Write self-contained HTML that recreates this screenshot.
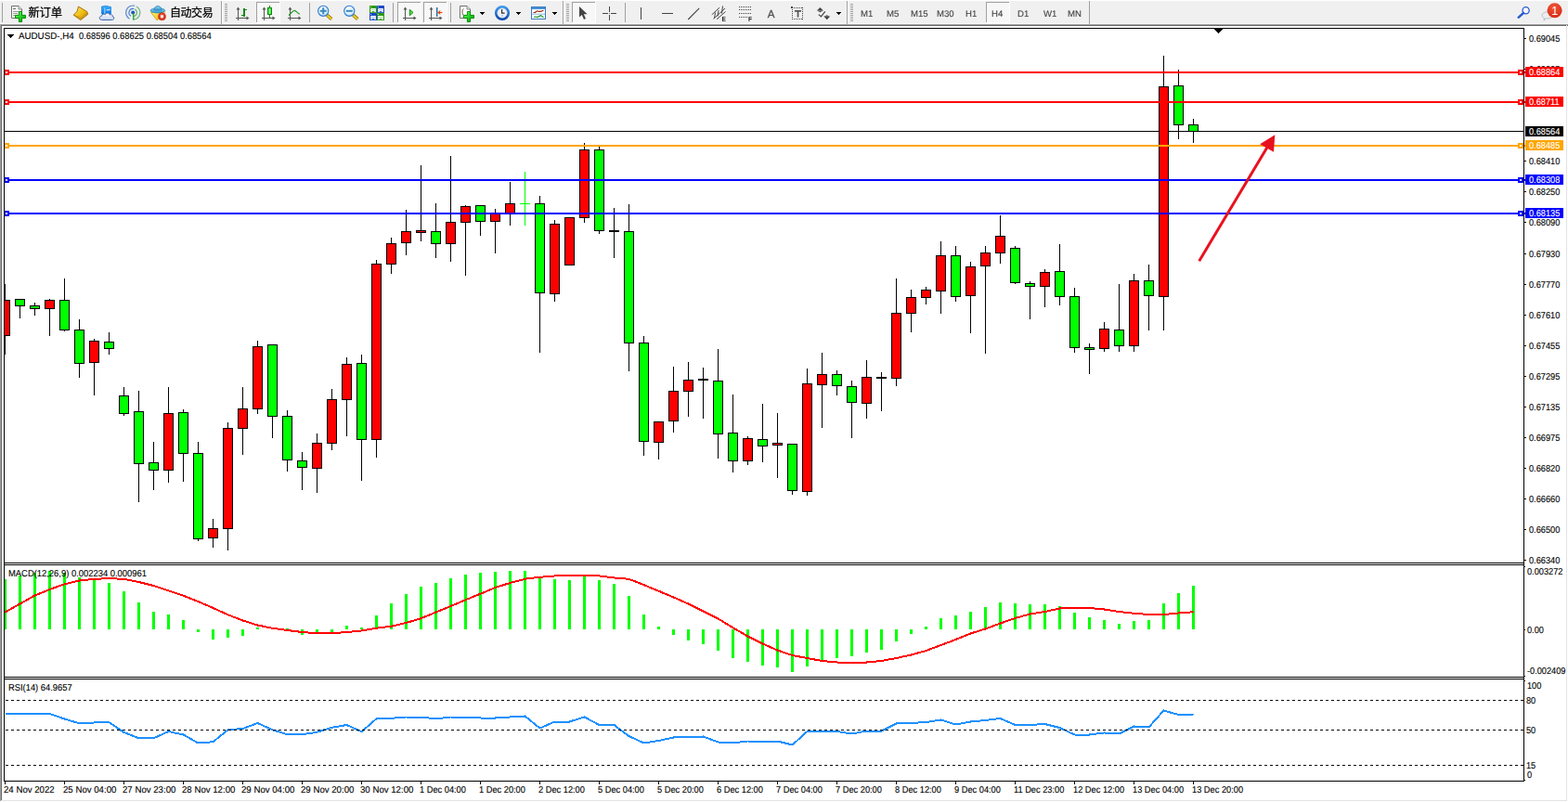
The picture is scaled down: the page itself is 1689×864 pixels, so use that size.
<!DOCTYPE html>
<html><head><meta charset="utf-8"><title>AUDUSD H4</title>
<style>
html,body{margin:0;padding:0;background:#fff;}
body{width:1689px;height:864px;overflow:hidden;position:relative;font-family:"Liberation Sans",sans-serif;}
.t{position:absolute;white-space:nowrap;line-height:1;text-rendering:geometricPrecision;-webkit-text-stroke:0.12px;font-family:"Liberation Sans",sans-serif;}
#tb{position:absolute;left:0;top:0;width:1689px;height:26px;background:#f0f0f0;}
svg{position:absolute;left:0;top:0;}
</style></head><body>
<div id="tb"></div>
<svg width="1689" height="864" viewBox="0 0 1689 864" shape-rendering="crispEdges">
<defs><clipPath id="cc"><rect x="5" y="31" width="1636" height="575"/></clipPath></defs>
<rect x="0" y="0" width="1689" height="1" fill="#fff"/>
<rect x="0" y="25" width="1689" height="1" fill="#f7f7f7"/>
<rect x="0" y="26" width="1689" height="1" fill="#a0a0a0"/>
<rect x="1" y="27" width="1688" height="1" fill="#696969"/>
<rect x="0" y="26" width="1" height="837" fill="#a0a0a0"/>
<rect x="1" y="27" width="1" height="835" fill="#696969"/>
<rect x="1687" y="27" width="1" height="836" fill="#e3e3e3"/>
<rect x="1" y="862" width="1687" height="1" fill="#e3e3e3"/>
<rect x="4" y="141" width="1638" height="1" fill="#000"/>
<g clip-path="url(#cc)">
<rect x="5" y="306" width="1" height="76" fill="#000"/>
<rect x="0" y="323" width="11" height="39" fill="#000"/>
<rect x="1" y="324" width="9" height="37" fill="#ff0000"/>
<rect x="21" y="322" width="1" height="21" fill="#000"/>
<rect x="16" y="322" width="11" height="8" fill="#000"/>
<rect x="17" y="323" width="9" height="6" fill="#00ff00"/>
<rect x="37" y="326" width="1" height="14" fill="#000"/>
<rect x="32" y="329" width="11" height="4" fill="#000"/>
<rect x="33" y="330" width="9" height="2" fill="#00ff00"/>
<rect x="53" y="322" width="1" height="40" fill="#000"/>
<rect x="48" y="323" width="11" height="10" fill="#000"/>
<rect x="49" y="324" width="9" height="8" fill="#ff0000"/>
<rect x="69" y="300" width="1" height="57" fill="#000"/>
<rect x="64" y="323" width="11" height="33" fill="#000"/>
<rect x="65" y="324" width="9" height="31" fill="#00ff00"/>
<rect x="85" y="344" width="1" height="63" fill="#000"/>
<rect x="80" y="355" width="11" height="37" fill="#000"/>
<rect x="81" y="356" width="9" height="35" fill="#00ff00"/>
<rect x="101" y="365" width="1" height="61" fill="#000"/>
<rect x="96" y="367" width="11" height="24" fill="#000"/>
<rect x="97" y="368" width="9" height="22" fill="#ff0000"/>
<rect x="117" y="358" width="1" height="24" fill="#000"/>
<rect x="112" y="368" width="11" height="8" fill="#000"/>
<rect x="113" y="369" width="9" height="6" fill="#00ff00"/>
<rect x="133" y="417" width="1" height="31" fill="#000"/>
<rect x="128" y="426" width="11" height="20" fill="#000"/>
<rect x="129" y="427" width="9" height="18" fill="#00ff00"/>
<rect x="149" y="421" width="1" height="120" fill="#000"/>
<rect x="144" y="443" width="11" height="57" fill="#000"/>
<rect x="145" y="444" width="9" height="55" fill="#00ff00"/>
<rect x="165" y="476" width="1" height="52" fill="#000"/>
<rect x="160" y="498" width="11" height="9" fill="#000"/>
<rect x="161" y="499" width="9" height="7" fill="#00ff00"/>
<rect x="181" y="417" width="1" height="103" fill="#000"/>
<rect x="176" y="445" width="11" height="62" fill="#000"/>
<rect x="177" y="446" width="9" height="60" fill="#ff0000"/>
<rect x="197" y="441" width="1" height="78" fill="#000"/>
<rect x="192" y="444" width="11" height="45" fill="#000"/>
<rect x="193" y="445" width="9" height="43" fill="#00ff00"/>
<rect x="213" y="476" width="1" height="107" fill="#000"/>
<rect x="208" y="488" width="11" height="93" fill="#000"/>
<rect x="209" y="489" width="9" height="91" fill="#00ff00"/>
<rect x="229" y="559" width="1" height="31" fill="#000"/>
<rect x="224" y="569" width="11" height="11" fill="#000"/>
<rect x="225" y="570" width="9" height="9" fill="#ff0000"/>
<rect x="245" y="455" width="1" height="138" fill="#000"/>
<rect x="240" y="461" width="11" height="109" fill="#000"/>
<rect x="241" y="462" width="9" height="107" fill="#ff0000"/>
<rect x="261" y="417" width="1" height="73" fill="#000"/>
<rect x="256" y="440" width="11" height="22" fill="#000"/>
<rect x="257" y="441" width="9" height="20" fill="#ff0000"/>
<rect x="277" y="367" width="1" height="79" fill="#000"/>
<rect x="272" y="373" width="11" height="68" fill="#000"/>
<rect x="273" y="374" width="9" height="66" fill="#ff0000"/>
<rect x="293" y="371" width="1" height="101" fill="#000"/>
<rect x="288" y="371" width="11" height="78" fill="#000"/>
<rect x="289" y="372" width="9" height="76" fill="#00ff00"/>
<rect x="309" y="442" width="1" height="66" fill="#000"/>
<rect x="304" y="448" width="11" height="48" fill="#000"/>
<rect x="305" y="449" width="9" height="46" fill="#00ff00"/>
<rect x="325" y="487" width="1" height="41" fill="#000"/>
<rect x="320" y="496" width="11" height="8" fill="#000"/>
<rect x="321" y="497" width="9" height="6" fill="#00ff00"/>
<rect x="341" y="467" width="1" height="64" fill="#000"/>
<rect x="336" y="477" width="11" height="28" fill="#000"/>
<rect x="337" y="478" width="9" height="26" fill="#ff0000"/>
<rect x="357" y="419" width="1" height="66" fill="#000"/>
<rect x="352" y="430" width="11" height="48" fill="#000"/>
<rect x="353" y="431" width="9" height="46" fill="#ff0000"/>
<rect x="373" y="385" width="1" height="85" fill="#000"/>
<rect x="368" y="392" width="11" height="39" fill="#000"/>
<rect x="369" y="393" width="9" height="37" fill="#ff0000"/>
<rect x="389" y="382" width="1" height="136" fill="#000"/>
<rect x="384" y="391" width="11" height="83" fill="#000"/>
<rect x="385" y="392" width="9" height="81" fill="#00ff00"/>
<rect x="405" y="280" width="1" height="213" fill="#000"/>
<rect x="400" y="284" width="11" height="190" fill="#000"/>
<rect x="401" y="285" width="9" height="188" fill="#ff0000"/>
<rect x="421" y="256" width="1" height="39" fill="#000"/>
<rect x="416" y="262" width="11" height="23" fill="#000"/>
<rect x="417" y="263" width="9" height="21" fill="#ff0000"/>
<rect x="437" y="226" width="1" height="49" fill="#000"/>
<rect x="432" y="249" width="11" height="13" fill="#000"/>
<rect x="433" y="250" width="9" height="11" fill="#ff0000"/>
<rect x="453" y="178" width="1" height="82" fill="#000"/>
<rect x="448" y="248" width="11" height="3" fill="#000"/>
<rect x="449" y="249" width="9" height="1" fill="#ff0000"/>
<rect x="469" y="219" width="1" height="59" fill="#000"/>
<rect x="464" y="249" width="11" height="14" fill="#000"/>
<rect x="465" y="250" width="9" height="12" fill="#00ff00"/>
<rect x="485" y="168" width="1" height="114" fill="#000"/>
<rect x="480" y="239" width="11" height="24" fill="#000"/>
<rect x="481" y="240" width="9" height="22" fill="#ff0000"/>
<rect x="501" y="221" width="1" height="76" fill="#000"/>
<rect x="496" y="222" width="11" height="18" fill="#000"/>
<rect x="497" y="223" width="9" height="16" fill="#ff0000"/>
<rect x="517" y="221" width="1" height="33" fill="#000"/>
<rect x="512" y="221" width="11" height="18" fill="#000"/>
<rect x="513" y="222" width="9" height="16" fill="#00ff00"/>
<rect x="533" y="225" width="1" height="48" fill="#000"/>
<rect x="528" y="229" width="11" height="10" fill="#000"/>
<rect x="529" y="230" width="9" height="8" fill="#ff0000"/>
<rect x="549" y="196" width="1" height="47" fill="#000"/>
<rect x="544" y="219" width="11" height="11" fill="#000"/>
<rect x="545" y="220" width="9" height="9" fill="#ff0000"/>
<rect x="565" y="185" width="1" height="58" fill="#00ff00"/>
<rect x="560" y="219" width="11" height="1" fill="#00ff00"/>
<rect x="581" y="211" width="1" height="169" fill="#000"/>
<rect x="576" y="219" width="11" height="97" fill="#000"/>
<rect x="577" y="220" width="9" height="95" fill="#00ff00"/>
<rect x="597" y="237" width="1" height="88" fill="#000"/>
<rect x="592" y="241" width="11" height="76" fill="#000"/>
<rect x="593" y="242" width="9" height="74" fill="#ff0000"/>
<rect x="613" y="234" width="1" height="52" fill="#000"/>
<rect x="608" y="234" width="11" height="52" fill="#000"/>
<rect x="609" y="235" width="9" height="50" fill="#ff0000"/>
<rect x="629" y="154" width="1" height="86" fill="#000"/>
<rect x="624" y="161" width="11" height="74" fill="#000"/>
<rect x="625" y="162" width="9" height="72" fill="#ff0000"/>
<rect x="645" y="158" width="1" height="94" fill="#000"/>
<rect x="640" y="161" width="11" height="88" fill="#000"/>
<rect x="641" y="162" width="9" height="86" fill="#00ff00"/>
<rect x="661" y="224" width="1" height="54" fill="#000"/>
<rect x="656" y="248" width="11" height="2" fill="#000"/>
<rect x="677" y="220" width="1" height="180" fill="#000"/>
<rect x="672" y="249" width="11" height="121" fill="#000"/>
<rect x="673" y="250" width="9" height="119" fill="#00ff00"/>
<rect x="693" y="362" width="1" height="129" fill="#000"/>
<rect x="688" y="369" width="11" height="107" fill="#000"/>
<rect x="689" y="370" width="9" height="105" fill="#00ff00"/>
<rect x="709" y="454" width="1" height="41" fill="#000"/>
<rect x="704" y="454" width="11" height="23" fill="#000"/>
<rect x="705" y="455" width="9" height="21" fill="#ff0000"/>
<rect x="725" y="395" width="1" height="71" fill="#000"/>
<rect x="720" y="421" width="11" height="33" fill="#000"/>
<rect x="721" y="422" width="9" height="31" fill="#ff0000"/>
<rect x="741" y="390" width="1" height="59" fill="#000"/>
<rect x="736" y="409" width="11" height="13" fill="#000"/>
<rect x="737" y="410" width="9" height="11" fill="#ff0000"/>
<rect x="757" y="396" width="1" height="55" fill="#000"/>
<rect x="752" y="408" width="11" height="2" fill="#000"/>
<rect x="773" y="376" width="1" height="118" fill="#000"/>
<rect x="768" y="410" width="11" height="58" fill="#000"/>
<rect x="769" y="411" width="9" height="56" fill="#00ff00"/>
<rect x="789" y="425" width="1" height="84" fill="#000"/>
<rect x="784" y="466" width="11" height="31" fill="#000"/>
<rect x="785" y="467" width="9" height="29" fill="#00ff00"/>
<rect x="805" y="470" width="1" height="31" fill="#000"/>
<rect x="800" y="472" width="11" height="25" fill="#000"/>
<rect x="801" y="473" width="9" height="23" fill="#ff0000"/>
<rect x="821" y="435" width="1" height="63" fill="#000"/>
<rect x="816" y="473" width="11" height="8" fill="#000"/>
<rect x="817" y="474" width="9" height="6" fill="#00ff00"/>
<rect x="837" y="445" width="1" height="70" fill="#000"/>
<rect x="832" y="477" width="11" height="3" fill="#000"/>
<rect x="833" y="478" width="9" height="1" fill="#ff0000"/>
<rect x="853" y="478" width="1" height="55" fill="#000"/>
<rect x="848" y="478" width="11" height="51" fill="#000"/>
<rect x="849" y="479" width="9" height="49" fill="#00ff00"/>
<rect x="869" y="397" width="1" height="137" fill="#000"/>
<rect x="864" y="413" width="11" height="117" fill="#000"/>
<rect x="865" y="414" width="9" height="115" fill="#ff0000"/>
<rect x="885" y="380" width="1" height="81" fill="#000"/>
<rect x="880" y="403" width="11" height="12" fill="#000"/>
<rect x="881" y="404" width="9" height="10" fill="#ff0000"/>
<rect x="901" y="399" width="1" height="27" fill="#000"/>
<rect x="896" y="403" width="11" height="13" fill="#000"/>
<rect x="897" y="404" width="9" height="11" fill="#00ff00"/>
<rect x="917" y="410" width="1" height="62" fill="#000"/>
<rect x="912" y="416" width="11" height="18" fill="#000"/>
<rect x="913" y="417" width="9" height="16" fill="#00ff00"/>
<rect x="933" y="388" width="1" height="63" fill="#000"/>
<rect x="928" y="406" width="11" height="29" fill="#000"/>
<rect x="929" y="407" width="9" height="27" fill="#ff0000"/>
<rect x="949" y="401" width="1" height="42" fill="#000"/>
<rect x="944" y="406" width="11" height="2" fill="#000"/>
<rect x="965" y="300" width="1" height="116" fill="#000"/>
<rect x="960" y="337" width="11" height="71" fill="#000"/>
<rect x="961" y="338" width="9" height="69" fill="#ff0000"/>
<rect x="981" y="312" width="1" height="46" fill="#000"/>
<rect x="976" y="320" width="11" height="18" fill="#000"/>
<rect x="977" y="321" width="9" height="16" fill="#ff0000"/>
<rect x="997" y="309" width="1" height="19" fill="#000"/>
<rect x="992" y="312" width="11" height="9" fill="#000"/>
<rect x="993" y="313" width="9" height="7" fill="#ff0000"/>
<rect x="1013" y="260" width="1" height="78" fill="#000"/>
<rect x="1008" y="275" width="11" height="39" fill="#000"/>
<rect x="1009" y="276" width="9" height="37" fill="#ff0000"/>
<rect x="1029" y="265" width="1" height="60" fill="#000"/>
<rect x="1024" y="275" width="11" height="45" fill="#000"/>
<rect x="1025" y="276" width="9" height="43" fill="#00ff00"/>
<rect x="1045" y="282" width="1" height="77" fill="#000"/>
<rect x="1040" y="287" width="11" height="32" fill="#000"/>
<rect x="1041" y="288" width="9" height="30" fill="#ff0000"/>
<rect x="1061" y="265" width="1" height="116" fill="#000"/>
<rect x="1056" y="272" width="11" height="15" fill="#000"/>
<rect x="1057" y="273" width="9" height="13" fill="#ff0000"/>
<rect x="1077" y="232" width="1" height="52" fill="#000"/>
<rect x="1072" y="254" width="11" height="19" fill="#000"/>
<rect x="1073" y="255" width="9" height="17" fill="#ff0000"/>
<rect x="1093" y="265" width="1" height="41" fill="#000"/>
<rect x="1088" y="267" width="11" height="38" fill="#000"/>
<rect x="1089" y="268" width="9" height="36" fill="#00ff00"/>
<rect x="1109" y="303" width="1" height="41" fill="#000"/>
<rect x="1104" y="305" width="11" height="4" fill="#000"/>
<rect x="1105" y="306" width="9" height="2" fill="#00ff00"/>
<rect x="1125" y="290" width="1" height="41" fill="#000"/>
<rect x="1120" y="293" width="11" height="16" fill="#000"/>
<rect x="1121" y="294" width="9" height="14" fill="#ff0000"/>
<rect x="1141" y="263" width="1" height="66" fill="#000"/>
<rect x="1136" y="292" width="11" height="28" fill="#000"/>
<rect x="1137" y="293" width="9" height="26" fill="#00ff00"/>
<rect x="1157" y="310" width="1" height="70" fill="#000"/>
<rect x="1152" y="319" width="11" height="56" fill="#000"/>
<rect x="1153" y="320" width="9" height="54" fill="#00ff00"/>
<rect x="1173" y="370" width="1" height="33" fill="#000"/>
<rect x="1168" y="374" width="11" height="3" fill="#000"/>
<rect x="1169" y="375" width="9" height="1" fill="#00ff00"/>
<rect x="1189" y="347" width="1" height="32" fill="#000"/>
<rect x="1184" y="354" width="11" height="22" fill="#000"/>
<rect x="1185" y="355" width="9" height="20" fill="#ff0000"/>
<rect x="1205" y="306" width="1" height="73" fill="#000"/>
<rect x="1200" y="355" width="11" height="18" fill="#000"/>
<rect x="1201" y="356" width="9" height="16" fill="#00ff00"/>
<rect x="1221" y="295" width="1" height="84" fill="#000"/>
<rect x="1216" y="302" width="11" height="71" fill="#000"/>
<rect x="1217" y="303" width="9" height="69" fill="#ff0000"/>
<rect x="1237" y="285" width="1" height="71" fill="#000"/>
<rect x="1232" y="302" width="11" height="17" fill="#000"/>
<rect x="1233" y="303" width="9" height="15" fill="#00ff00"/>
<rect x="1253" y="60" width="1" height="296" fill="#000"/>
<rect x="1248" y="93" width="11" height="227" fill="#000"/>
<rect x="1249" y="94" width="9" height="225" fill="#ff0000"/>
<rect x="1269" y="75" width="1" height="75" fill="#000"/>
<rect x="1264" y="92" width="11" height="43" fill="#000"/>
<rect x="1265" y="93" width="9" height="41" fill="#00ff00"/>
<rect x="1285" y="128" width="1" height="26" fill="#000"/>
<rect x="1280" y="134" width="11" height="8" fill="#000"/>
<rect x="1281" y="135" width="9" height="6" fill="#00ff00"/>
</g>
<rect x="5" y="77" width="1638" height="2" fill="#ff0000"/>
<rect x="4" y="75" width="6" height="6" fill="#ff0000"/>
<rect x="6" y="77" width="2" height="2" fill="#fff"/>
<rect x="1635" y="75" width="6" height="6" fill="#ff0000"/>
<rect x="1637" y="77" width="2" height="2" fill="#fff"/>
<rect x="5" y="109" width="1638" height="2" fill="#ff0000"/>
<rect x="4" y="107" width="6" height="6" fill="#ff0000"/>
<rect x="6" y="109" width="2" height="2" fill="#fff"/>
<rect x="1635" y="107" width="6" height="6" fill="#ff0000"/>
<rect x="1637" y="109" width="2" height="2" fill="#fff"/>
<rect x="5" y="156" width="1638" height="2" fill="#ffa500"/>
<rect x="4" y="154" width="6" height="6" fill="#ffa500"/>
<rect x="6" y="156" width="2" height="2" fill="#fff"/>
<rect x="1635" y="154" width="6" height="6" fill="#ffa500"/>
<rect x="1637" y="156" width="2" height="2" fill="#fff"/>
<rect x="5" y="193" width="1638" height="2" fill="#0000ff"/>
<rect x="4" y="191" width="6" height="6" fill="#0000ff"/>
<rect x="6" y="193" width="2" height="2" fill="#fff"/>
<rect x="1635" y="191" width="6" height="6" fill="#0000ff"/>
<rect x="1637" y="193" width="2" height="2" fill="#fff"/>
<rect x="5" y="229" width="1638" height="2" fill="#0000ff"/>
<rect x="4" y="227" width="6" height="6" fill="#0000ff"/>
<rect x="6" y="229" width="2" height="2" fill="#fff"/>
<rect x="1635" y="227" width="6" height="6" fill="#0000ff"/>
<rect x="1637" y="229" width="2" height="2" fill="#fff"/>
<rect x="5" y="624" width="2" height="54" fill="#00ff00"/>
<rect x="20" y="620" width="3" height="58" fill="#00ff00"/>
<rect x="36" y="617" width="3" height="61" fill="#00ff00"/>
<rect x="52" y="615" width="3" height="63" fill="#00ff00"/>
<rect x="68" y="617" width="3" height="61" fill="#00ff00"/>
<rect x="84" y="622" width="3" height="56" fill="#00ff00"/>
<rect x="100" y="625" width="3" height="53" fill="#00ff00"/>
<rect x="116" y="628" width="3" height="50" fill="#00ff00"/>
<rect x="132" y="637" width="3" height="41" fill="#00ff00"/>
<rect x="148" y="649" width="3" height="29" fill="#00ff00"/>
<rect x="164" y="659" width="3" height="19" fill="#00ff00"/>
<rect x="180" y="662" width="3" height="16" fill="#00ff00"/>
<rect x="196" y="668" width="3" height="10" fill="#00ff00"/>
<rect x="212" y="678" width="3" height="3" fill="#00ff00"/>
<rect x="228" y="678" width="3" height="11" fill="#00ff00"/>
<rect x="244" y="678" width="3" height="9" fill="#00ff00"/>
<rect x="260" y="678" width="3" height="7" fill="#00ff00"/>
<rect x="276" y="676" width="3" height="2" fill="#00ff00"/>
<rect x="292" y="676" width="3" height="2" fill="#00ff00"/>
<rect x="308" y="677" width="3" height="1" fill="#00ff00"/>
<rect x="324" y="678" width="3" height="6" fill="#00ff00"/>
<rect x="340" y="678" width="3" height="5" fill="#00ff00"/>
<rect x="356" y="678" width="3" height="4" fill="#00ff00"/>
<rect x="372" y="674" width="3" height="4" fill="#00ff00"/>
<rect x="388" y="676" width="3" height="2" fill="#00ff00"/>
<rect x="404" y="663" width="3" height="15" fill="#00ff00"/>
<rect x="420" y="650" width="3" height="28" fill="#00ff00"/>
<rect x="436" y="640" width="3" height="38" fill="#00ff00"/>
<rect x="452" y="632" width="3" height="46" fill="#00ff00"/>
<rect x="468" y="628" width="3" height="50" fill="#00ff00"/>
<rect x="484" y="623" width="3" height="55" fill="#00ff00"/>
<rect x="500" y="619" width="3" height="59" fill="#00ff00"/>
<rect x="516" y="617" width="3" height="61" fill="#00ff00"/>
<rect x="532" y="616" width="3" height="62" fill="#00ff00"/>
<rect x="548" y="615" width="3" height="63" fill="#00ff00"/>
<rect x="564" y="615" width="3" height="63" fill="#00ff00"/>
<rect x="580" y="623" width="3" height="55" fill="#00ff00"/>
<rect x="596" y="624" width="3" height="54" fill="#00ff00"/>
<rect x="612" y="625" width="3" height="53" fill="#00ff00"/>
<rect x="628" y="621" width="3" height="57" fill="#00ff00"/>
<rect x="644" y="625" width="3" height="53" fill="#00ff00"/>
<rect x="660" y="629" width="3" height="49" fill="#00ff00"/>
<rect x="676" y="642" width="3" height="36" fill="#00ff00"/>
<rect x="692" y="662" width="3" height="16" fill="#00ff00"/>
<rect x="708" y="675" width="3" height="3" fill="#00ff00"/>
<rect x="724" y="678" width="3" height="6" fill="#00ff00"/>
<rect x="740" y="678" width="3" height="12" fill="#00ff00"/>
<rect x="756" y="678" width="3" height="16" fill="#00ff00"/>
<rect x="772" y="678" width="3" height="23" fill="#00ff00"/>
<rect x="788" y="678" width="3" height="31" fill="#00ff00"/>
<rect x="804" y="678" width="3" height="35" fill="#00ff00"/>
<rect x="820" y="678" width="3" height="39" fill="#00ff00"/>
<rect x="836" y="678" width="3" height="41" fill="#00ff00"/>
<rect x="852" y="678" width="3" height="46" fill="#00ff00"/>
<rect x="868" y="678" width="3" height="40" fill="#00ff00"/>
<rect x="884" y="678" width="3" height="34" fill="#00ff00"/>
<rect x="900" y="678" width="3" height="31" fill="#00ff00"/>
<rect x="916" y="678" width="3" height="29" fill="#00ff00"/>
<rect x="932" y="678" width="3" height="25" fill="#00ff00"/>
<rect x="948" y="678" width="3" height="22" fill="#00ff00"/>
<rect x="964" y="678" width="3" height="13" fill="#00ff00"/>
<rect x="980" y="678" width="3" height="5" fill="#00ff00"/>
<rect x="996" y="675" width="3" height="3" fill="#00ff00"/>
<rect x="1012" y="666" width="3" height="12" fill="#00ff00"/>
<rect x="1028" y="663" width="3" height="15" fill="#00ff00"/>
<rect x="1044" y="659" width="3" height="19" fill="#00ff00"/>
<rect x="1060" y="654" width="3" height="24" fill="#00ff00"/>
<rect x="1076" y="649" width="3" height="29" fill="#00ff00"/>
<rect x="1092" y="650" width="3" height="28" fill="#00ff00"/>
<rect x="1108" y="651" width="3" height="27" fill="#00ff00"/>
<rect x="1124" y="651" width="3" height="27" fill="#00ff00"/>
<rect x="1140" y="653" width="3" height="25" fill="#00ff00"/>
<rect x="1156" y="660" width="3" height="18" fill="#00ff00"/>
<rect x="1172" y="665" width="3" height="13" fill="#00ff00"/>
<rect x="1188" y="668" width="3" height="10" fill="#00ff00"/>
<rect x="1204" y="672" width="3" height="6" fill="#00ff00"/>
<rect x="1220" y="669" width="3" height="9" fill="#00ff00"/>
<rect x="1236" y="668" width="3" height="10" fill="#00ff00"/>
<rect x="1252" y="650" width="3" height="28" fill="#00ff00"/>
<rect x="1268" y="639" width="3" height="39" fill="#00ff00"/>
<rect x="1284" y="631" width="3" height="47" fill="#00ff00"/>
<rect x="4" y="30" width="1" height="812" fill="#000"/>
<rect x="4" y="30" width="1638" height="1" fill="#000"/>
<rect x="1641" y="30" width="1" height="812" fill="#000"/>
<rect x="4" y="606" width="1638" height="1" fill="#000"/>
<rect x="4" y="608" width="1638" height="1" fill="#000"/>
<rect x="4" y="729" width="1638" height="1" fill="#000"/>
<rect x="4" y="731" width="1638" height="1" fill="#000"/>
<rect x="4" y="841" width="1638" height="1" fill="#000"/>
<rect x="1642" y="41" width="2" height="1" fill="#000"/><rect x="1642" y="74" width="2" height="1" fill="#000"/><rect x="1642" y="173" width="2" height="1" fill="#000"/><rect x="1642" y="206" width="2" height="1" fill="#000"/><rect x="1642" y="239" width="2" height="1" fill="#000"/><rect x="1642" y="273" width="2" height="1" fill="#000"/><rect x="1642" y="306" width="2" height="1" fill="#000"/><rect x="1642" y="339" width="2" height="1" fill="#000"/><rect x="1642" y="372" width="2" height="1" fill="#000"/><rect x="1642" y="405" width="2" height="1" fill="#000"/><rect x="1642" y="438" width="2" height="1" fill="#000"/><rect x="1642" y="471" width="2" height="1" fill="#000"/><rect x="1642" y="504" width="2" height="1" fill="#000"/><rect x="1642" y="537" width="2" height="1" fill="#000"/><rect x="1642" y="570" width="2" height="1" fill="#000"/><rect x="1642" y="603" width="2" height="1" fill="#000"/><rect x="1642" y="610" width="1" height="1" fill="#000"/><rect x="1642" y="678" width="1" height="1" fill="#000"/><rect x="1642" y="728" width="1" height="1" fill="#000"/><rect x="1642" y="733" width="1" height="1" fill="#000"/><rect x="1642" y="840" width="1" height="1" fill="#000"/><rect x="5" y="842" width="1" height="3" fill="#000"/><rect x="69" y="842" width="1" height="3" fill="#000"/><rect x="133" y="842" width="1" height="3" fill="#000"/><rect x="197" y="842" width="1" height="3" fill="#000"/><rect x="261" y="842" width="1" height="3" fill="#000"/><rect x="325" y="842" width="1" height="3" fill="#000"/><rect x="389" y="842" width="1" height="3" fill="#000"/><rect x="453" y="842" width="1" height="3" fill="#000"/><rect x="517" y="842" width="1" height="3" fill="#000"/><rect x="581" y="842" width="1" height="3" fill="#000"/><rect x="645" y="842" width="1" height="3" fill="#000"/><rect x="709" y="842" width="1" height="3" fill="#000"/><rect x="773" y="842" width="1" height="3" fill="#000"/><rect x="837" y="842" width="1" height="3" fill="#000"/><rect x="901" y="842" width="1" height="3" fill="#000"/><rect x="965" y="842" width="1" height="3" fill="#000"/><rect x="1029" y="842" width="1" height="3" fill="#000"/><rect x="1093" y="842" width="1" height="3" fill="#000"/><rect x="1157" y="842" width="1" height="3" fill="#000"/><rect x="1221" y="842" width="1" height="3" fill="#000"/><rect x="1285" y="842" width="1" height="3" fill="#000"/><rect x="8" y="37" width="7" height="1"/><rect x="9" y="38" width="5" height="1"/><rect x="10" y="39" width="3" height="1"/><rect x="11" y="40" width="1" height="1"/><rect x="1308" y="31" width="9" height="1"/><rect x="1309" y="32" width="7" height="1"/><rect x="1310" y="33" width="5" height="1"/><rect x="1311" y="34" width="3" height="1"/><rect x="1312" y="35" width="1" height="1"/>
</svg>
<svg width="1689" height="864" viewBox="0 0 1689 864">
<polyline points="5.5,659.5 21.5,650.5 37.5,641.5 53.5,635.0 69.5,629.25 85.5,625.5 101.5,623.75 117.5,623.25 133.5,623.75 149.5,627.0 165.5,631.0 181.5,636.25 197.5,641.75 213.5,648.0 229.5,655.0 245.5,662.25 261.5,668.5 277.5,673.5 293.5,676.75 309.5,679.0 325.5,681.0 341.5,682.25 357.5,682.25 373.5,681.0 389.5,679.5 405.5,676.75 421.5,674.75 437.5,671.0 453.5,666.25 469.5,659.5 485.5,653.0 501.5,646.25 517.5,639.75 533.5,633.0 549.5,628.0 565.5,623.75 581.5,621.75 597.5,620.5 613.5,620.0 629.5,620.0 645.5,620.5 661.5,622.5 677.5,623.8 693.5,630.1 709.5,636.75 725.5,643.5 741.5,650.5 757.5,658.5 773.5,666.5 789.5,676.25 805.5,685.5 821.5,693.5 837.5,700.5 853.5,706.0 869.5,709.0 885.5,712.0 901.5,713.5 917.5,713.5 933.5,713.5 949.5,712.0 965.5,709.0 981.5,705.5 997.5,701.0 1013.5,695.0 1029.5,689.0 1045.5,682.5 1061.5,677.5 1077.5,671.5 1093.5,666.0 1109.5,661.5 1125.5,659.0 1141.5,655.5 1157.5,655.0 1173.5,655.0 1189.5,656.5 1205.5,659.0 1221.5,660.75 1237.5,662.0 1253.5,662.0 1269.5,660.5 1285.5,659.25" fill="none" stroke="#ff0000" stroke-width="2" stroke-linejoin="round" shape-rendering="crispEdges"/>
<polyline points="5.5,769.0 21.5,769.0 37.5,769.0 53.5,769.0 69.5,774.5 85.5,779.25 101.5,778.5 117.5,778.25 133.5,789.0 149.5,795.25 165.5,795.25 181.5,788.0 197.5,791.5 213.5,800.5 229.5,799.25 245.5,786.25 261.5,785.0 277.5,779.0 293.5,786.25 309.5,791.25 325.5,791.25 341.5,788.75 357.5,783.75 373.5,781.0 389.5,788.25 405.5,774.25 421.5,773.75 437.5,772.5 453.5,772.5 469.5,774.5 485.5,772.5 501.5,772.5 517.5,773.5 533.5,773.5 549.5,772.5 565.5,771.5 581.5,784.5 597.5,777.5 613.5,777.5 629.5,772.5 645.5,781.0 661.5,781.0 677.5,793.0 693.5,800.5 709.5,798.0 725.5,794.5 741.5,794.0 757.5,793.5 773.5,799.5 789.5,800.5 805.5,798.5 821.5,798.5 837.5,798.5 853.5,802.5 869.5,788.0 885.5,788.0 901.5,788.0 917.5,790.5 933.5,787.5 949.5,787.5 965.5,779.5 981.5,779.0 997.5,778.0 1013.5,775.5 1029.5,780.5 1045.5,777.5 1061.5,776.0 1077.5,774.0 1093.5,781.0 1109.5,781.0 1125.5,780.0 1141.5,784.0 1157.5,791.5 1173.5,791.5 1189.5,789.5 1205.5,790.5 1221.5,782.5 1237.5,783.5 1253.5,765.5 1269.5,770.0 1285.5,770.5" fill="none" stroke="#1e90ff" stroke-width="2" stroke-linejoin="round" shape-rendering="crispEdges"/>
<line x1="6" y1="754.5" x2="1641" y2="754.5" stroke="#000" stroke-width="1" stroke-dasharray="3 3" shape-rendering="crispEdges"/>
<line x1="6" y1="786.5" x2="1641" y2="786.5" stroke="#000" stroke-width="1" stroke-dasharray="3 3" shape-rendering="crispEdges"/>
<line x1="6" y1="824.5" x2="1641" y2="824.5" stroke="#000" stroke-width="1" stroke-dasharray="3 3" shape-rendering="crispEdges"/>
<line x1="1291.7" y1="281.2" x2="1366" y2="157" stroke="#e8121f" stroke-width="3"/>
<polygon points="1373.3,145.2 1357.2,155.3 1372,163.7" fill="#e8121f"/>
</svg>
<div class="t" style="left:1647px;top:38px;font-size:10px;color:#000;transform:scaleX(0.920);transform-origin:0 0;">0.69045</div><div class="t" style="left:1647px;top:71px;font-size:10px;color:#000;transform:scaleX(0.920);transform-origin:0 0;">0.68885</div><div class="t" style="left:1647px;top:170px;font-size:10px;color:#000;transform:scaleX(0.920);transform-origin:0 0;">0.68410</div><div class="t" style="left:1647px;top:203px;font-size:10px;color:#000;transform:scaleX(0.920);transform-origin:0 0;">0.68250</div><div class="t" style="left:1647px;top:236px;font-size:10px;color:#000;transform:scaleX(0.920);transform-origin:0 0;">0.68090</div><div class="t" style="left:1647px;top:270px;font-size:10px;color:#000;transform:scaleX(0.920);transform-origin:0 0;">0.67930</div><div class="t" style="left:1647px;top:303px;font-size:10px;color:#000;transform:scaleX(0.920);transform-origin:0 0;">0.67770</div><div class="t" style="left:1647px;top:336px;font-size:10px;color:#000;transform:scaleX(0.920);transform-origin:0 0;">0.67610</div><div class="t" style="left:1647px;top:369px;font-size:10px;color:#000;transform:scaleX(0.920);transform-origin:0 0;">0.67455</div><div class="t" style="left:1647px;top:402px;font-size:10px;color:#000;transform:scaleX(0.920);transform-origin:0 0;">0.67295</div><div class="t" style="left:1647px;top:435px;font-size:10px;color:#000;transform:scaleX(0.920);transform-origin:0 0;">0.67135</div><div class="t" style="left:1647px;top:468px;font-size:10px;color:#000;transform:scaleX(0.920);transform-origin:0 0;">0.66975</div><div class="t" style="left:1647px;top:501px;font-size:10px;color:#000;transform:scaleX(0.920);transform-origin:0 0;">0.66820</div><div class="t" style="left:1647px;top:534px;font-size:10px;color:#000;transform:scaleX(0.920);transform-origin:0 0;">0.66660</div><div class="t" style="left:1647px;top:567px;font-size:10px;color:#000;transform:scaleX(0.920);transform-origin:0 0;">0.66500</div><div class="t" style="left:1647px;top:600px;font-size:10px;color:#000;transform:scaleX(0.920);transform-origin:0 0;">0.66340</div><div class="t" style="left:1645px;top:612px;font-size:10px;color:#000;transform:scaleX(0.920);transform-origin:0 0;">0.003272</div><div class="t" style="left:1645px;top:675px;font-size:10px;color:#000;transform:scaleX(0.920);transform-origin:0 0;">0.00</div><div class="t" style="left:1645px;top:719px;font-size:10px;color:#000;transform:scaleX(0.920);transform-origin:0 0;">-0.002409</div><div class="t" style="left:1645px;top:735px;font-size:10px;color:#000;transform:scaleX(0.920);transform-origin:0 0;">100</div><div class="t" style="left:1644px;top:751px;font-size:10px;color:#000;transform:scaleX(0.920);transform-origin:0 0;">80</div><div class="t" style="left:1644px;top:783px;font-size:10px;color:#000;transform:scaleX(0.920);transform-origin:0 0;">50</div><div class="t" style="left:1644px;top:821px;font-size:10px;color:#000;transform:scaleX(0.920);transform-origin:0 0;">15</div><div class="t" style="left:1645px;top:831px;font-size:10px;color:#000;transform:scaleX(0.920);transform-origin:0 0;">0</div><div style="position:absolute;left:1643px;top:72px;width:41px;height:11px;background:#ff0000"></div><div class="t" style="left:1647px;top:74px;font-size:10px;color:#fff;transform:scaleX(0.920);transform-origin:0 0;">0.68864</div><div style="position:absolute;left:1643px;top:104px;width:41px;height:11px;background:#ff0000"></div><div class="t" style="left:1647px;top:106px;font-size:10px;color:#fff;transform:scaleX(0.920);transform-origin:0 0;">0.68711</div><div style="position:absolute;left:1643px;top:136px;width:41px;height:11px;background:#000"></div><div class="t" style="left:1647px;top:138px;font-size:10px;color:#fff;transform:scaleX(0.920);transform-origin:0 0;">0.68564</div><div style="position:absolute;left:1643px;top:151px;width:41px;height:11px;background:#ffa500"></div><div class="t" style="left:1647px;top:153px;font-size:10px;color:#fff;transform:scaleX(0.920);transform-origin:0 0;">0.68485</div><div style="position:absolute;left:1643px;top:188px;width:41px;height:11px;background:#0000ff"></div><div class="t" style="left:1647px;top:190px;font-size:10px;color:#fff;transform:scaleX(0.920);transform-origin:0 0;">0.68308</div><div style="position:absolute;left:1643px;top:224px;width:41px;height:11px;background:#0000ff"></div><div class="t" style="left:1647px;top:226px;font-size:10px;color:#fff;transform:scaleX(0.920);transform-origin:0 0;">0.68135</div><div class="t" style="left:4.4px;top:847px;font-size:10px;color:#000;transform:scaleX(0.965);transform-origin:0 0;">24 Nov 2022</div><div class="t" style="left:68.4px;top:847px;font-size:10px;color:#000;transform:scaleX(0.965);transform-origin:0 0;">25 Nov 04:00</div><div class="t" style="left:132.4px;top:847px;font-size:10px;color:#000;transform:scaleX(0.965);transform-origin:0 0;">27 Nov 23:00</div><div class="t" style="left:196.4px;top:847px;font-size:10px;color:#000;transform:scaleX(0.965);transform-origin:0 0;">28 Nov 12:00</div><div class="t" style="left:260.4px;top:847px;font-size:10px;color:#000;transform:scaleX(0.965);transform-origin:0 0;">29 Nov 04:00</div><div class="t" style="left:324.4px;top:847px;font-size:10px;color:#000;transform:scaleX(0.965);transform-origin:0 0;">29 Nov 20:00</div><div class="t" style="left:388.4px;top:847px;font-size:10px;color:#000;transform:scaleX(0.965);transform-origin:0 0;">30 Nov 12:00</div><div class="t" style="left:452.4px;top:847px;font-size:10px;color:#000;transform:scaleX(0.925);transform-origin:0 0;">1 Dec 04:00</div><div class="t" style="left:516.4px;top:847px;font-size:10px;color:#000;transform:scaleX(0.925);transform-origin:0 0;">1 Dec 20:00</div><div class="t" style="left:580.4px;top:847px;font-size:10px;color:#000;transform:scaleX(0.925);transform-origin:0 0;">2 Dec 12:00</div><div class="t" style="left:644.4px;top:847px;font-size:10px;color:#000;transform:scaleX(0.925);transform-origin:0 0;">5 Dec 04:00</div><div class="t" style="left:708.4px;top:847px;font-size:10px;color:#000;transform:scaleX(0.925);transform-origin:0 0;">5 Dec 20:00</div><div class="t" style="left:772.4px;top:847px;font-size:10px;color:#000;transform:scaleX(0.925);transform-origin:0 0;">6 Dec 12:00</div><div class="t" style="left:836.4px;top:847px;font-size:10px;color:#000;transform:scaleX(0.925);transform-origin:0 0;">7 Dec 04:00</div><div class="t" style="left:900.4px;top:847px;font-size:10px;color:#000;transform:scaleX(0.925);transform-origin:0 0;">7 Dec 20:00</div><div class="t" style="left:964.4px;top:847px;font-size:10px;color:#000;transform:scaleX(0.925);transform-origin:0 0;">8 Dec 12:00</div><div class="t" style="left:1028.4px;top:847px;font-size:10px;color:#000;transform:scaleX(0.925);transform-origin:0 0;">9 Dec 04:00</div><div class="t" style="left:1092.4px;top:847px;font-size:10px;color:#000;transform:scaleX(0.925);transform-origin:0 0;">11 Dec 23:00</div><div class="t" style="left:1156.4px;top:847px;font-size:10px;color:#000;transform:scaleX(0.925);transform-origin:0 0;">12 Dec 12:00</div><div class="t" style="left:1220.4px;top:847px;font-size:10px;color:#000;transform:scaleX(0.925);transform-origin:0 0;">13 Dec 04:00</div><div class="t" style="left:1284.4px;top:847px;font-size:10px;color:#000;transform:scaleX(0.925);transform-origin:0 0;">13 Dec 20:00</div><div class="t" style="left:20.4px;top:35px;font-size:10px;color:#000;transform:scaleX(0.975);transform-origin:0 0;">AUDUSD-,H4</div><div class="t" style="left:84.8px;top:35px;font-size:10px;color:#000;transform:scaleX(0.933);transform-origin:0 0;">0.68596 0.68625 0.68504 0.68564</div><div class="t" style="left:9px;top:614px;font-size:10px;color:#000;transform:scaleX(0.940);transform-origin:0 0;">MACD(12,26,9) 0.002234 0.000961</div><div class="t" style="left:9px;top:737px;font-size:10px;color:#000;transform:scaleX(0.935);transform-origin:0 0;">RSI(14) 64.9657</div>
<svg width="1689" height="28" viewBox="0 0 1689 28" style="position:absolute;left:0;top:0;will-change:transform">
<defs>
<pattern id="dith" width="2" height="2" patternUnits="userSpaceOnUse"><rect width="2" height="2" fill="#f0f0f0"/><rect width="1" height="1" fill="#fff"/><rect x="1" y="1" width="1" height="1" fill="#fff"/></pattern>
<linearGradient id="gplus" x1="0" y1="0" x2="1" y2="1"><stop offset="0" stop-color="#7dff7d"/><stop offset="0.5" stop-color="#22d422"/><stop offset="1" stop-color="#009a00"/></linearGradient>
<linearGradient id="gold" x1="0" y1="0" x2="1" y2="1"><stop offset="0" stop-color="#ffe97a"/><stop offset="0.5" stop-color="#f0c010"/><stop offset="1" stop-color="#c48a10"/></linearGradient>
<linearGradient id="blu" x1="0" y1="0" x2="0" y2="1"><stop offset="0" stop-color="#38b0ff"/><stop offset="1" stop-color="#0a78e8"/></linearGradient>
<linearGradient id="cloud" x1="0" y1="0" x2="0" y2="1"><stop offset="0" stop-color="#ffffff"/><stop offset="1" stop-color="#c4d2ea"/></linearGradient>
<radialGradient id="lens" cx="0.4" cy="0.35" r="0.7"><stop offset="0" stop-color="#ffffff"/><stop offset="1" stop-color="#bfe4fb"/></radialGradient>
<linearGradient id="clk" x1="0" y1="0" x2="0" y2="1"><stop offset="0" stop-color="#3a98f0"/><stop offset="1" stop-color="#0a48b0"/></linearGradient>
<linearGradient id="cndl" x1="0" y1="0" x2="1" y2="0"><stop offset="0" stop-color="#22cc22"/><stop offset="0.5" stop-color="#88ff88"/><stop offset="1" stop-color="#22cc22"/></linearGradient>
<radialGradient id="redb" cx="0.45" cy="0.3" r="0.8"><stop offset="0" stop-color="#f0553a"/><stop offset="1" stop-color="#d42810"/></radialGradient>
<linearGradient id="hat" x1="0" y1="0" x2="0" y2="1"><stop offset="0" stop-color="#8fd4f4"/><stop offset="1" stop-color="#3a98cc"/></linearGradient>
<linearGradient id="face" x1="0" y1="0" x2="1" y2="1"><stop offset="0" stop-color="#fff27a"/><stop offset="1" stop-color="#e8b800"/></linearGradient>
</defs>
<rect x="2" y="3" width="1" height="21" fill="#a0a0a0" shape-rendering="crispEdges"/>
<path d="M12.5 6.5 H20 L23.5 10 V19.5 H12.5 Z" fill="#fff" stroke="#707070" stroke-width="1"/>
<path d="M20 6.5 V10 H23.5" fill="#e8e8e8" stroke="#707070" stroke-width="0.8"/>
<g shape-rendering="crispEdges"><rect x="14" y="9" width="3" height="1" fill="#666"/><rect x="14" y="12" width="6" height="1" fill="#999"/><rect x="14" y="14" width="5" height="1" fill="#999"/><rect x="14" y="16" width="3" height="1" fill="#999"/></g>
<path d="M20.4 12.5 H23.6 V16.4 H27.5 V19.6 H23.6 V23.5 H20.4 V19.6 H16.5 V16.4 H20.4 Z" fill="url(#gplus)" stroke="#0a8a0a" stroke-width="1"/>
<text x="30.5 42.6 54.7" y="17.5" font-family="'Liberation Sans','Noto Sans CJK SC',sans-serif" font-size="12.3" fill="#000" stroke="#000" stroke-width="0.25">新订单</text>
<path d="M84.5 7 L93.8 12.6 L94.6 15.5 L86.8 21.6 L79.2 16.2 L83 12.3 Z" fill="url(#gold)" stroke="#a8701a" stroke-width="1" stroke-linejoin="round"/>
<path d="M79.6 16 L87 19.6 L94 14" fill="none" stroke="#b88418" stroke-width="0.8"/>
<path d="M109.5 7 L114 6.2 L119.5 7.5 V15 H109.5 Z" fill="url(#blu)" stroke="#0a70d8" stroke-width="0.6"/>
<path d="M112.8 8.5 V15" stroke="#bfe4ff" stroke-width="0.9"/><path d="M114.5 11 L118.5 10.4" stroke="#d8efff" stroke-width="1.2"/>
<path d="M109.6 21.5 C106.4 21.5 106.4 17.3 109.6 17.2 C109.6 15 112.2 14.4 113.2 15.8 C114 13.6 117.6 13.4 118.2 16 C120 15 121.6 16.2 121 17.6 C123.6 17.8 123.4 21.5 120.6 21.5 Z" fill="url(#cloud)" stroke="#4468a8" stroke-width="1"/>
<circle cx="143.2" cy="13.6" r="7.6" fill="#dfeee6" opacity="0.55"/>
<path d="M144.29 9.54 A4.2 4.2 0 0 0 141.10 17.24" fill="none" stroke="#3a68d0" stroke-width="1.1" opacity="0.9"/>
<path d="M145.30 9.96 A4.2 4.2 0 0 1 143.62 17.78" fill="none" stroke="#5aa868" stroke-width="1.1" opacity="0.9"/>
<path d="M145.18 6.26 A7.6 7.6 0 0 0 139.40 20.18" fill="none" stroke="#3a68d0" stroke-width="1.2" opacity="0.8"/>
<path d="M147.00 7.02 A7.6 7.6 0 0 1 143.96 21.16" fill="none" stroke="#5aa868" stroke-width="1.2" opacity="0.8"/>
<circle cx="143.2" cy="13.5" r="2" fill="#2450c8"/>
<rect x="143.1" y="14.0" width="1.3" height="7.6" fill="#22a022"/>
<path d="M162.4 13.2 L177.6 12.8 L169.2 22 Z" fill="url(#face)" stroke="#c8a000" stroke-width="0.8" stroke-linejoin="round"/>
<ellipse cx="169.9" cy="11.3" rx="7.8" ry="2.6" fill="url(#hat)" stroke="#2a86b8" stroke-width="0.8"/>
<path d="M166 11 C165.8 5 174.2 5 174 11 Z" fill="url(#hat)" stroke="#2a86b8" stroke-width="0.8"/>
<circle cx="174.5" cy="17.8" r="4" fill="url(#redb)" stroke="#c02008" stroke-width="0.6"/><rect x="173" y="16.3" width="3" height="3" fill="#fff"/>
<text x="183 194.55 206.1 217.65" y="17.5" font-family="'Liberation Sans','Noto Sans CJK SC',sans-serif" font-size="12" fill="#000" stroke="#000" stroke-width="0.25">自动交易</text>
<rect x="238" y="1" width="1" height="25" fill="#a0a0a0" shape-rendering="crispEdges"/><rect x="239" y="1" width="1" height="25" fill="#fff" shape-rendering="crispEdges"/>
<rect x="242" y="4" width="3" height="1" fill="#a0a0a0" shape-rendering="crispEdges"/>
<rect x="242" y="6" width="3" height="1" fill="#a0a0a0" shape-rendering="crispEdges"/>
<rect x="242" y="8" width="3" height="1" fill="#a0a0a0" shape-rendering="crispEdges"/>
<rect x="242" y="10" width="3" height="1" fill="#a0a0a0" shape-rendering="crispEdges"/>
<rect x="242" y="12" width="3" height="1" fill="#a0a0a0" shape-rendering="crispEdges"/>
<rect x="242" y="14" width="3" height="1" fill="#a0a0a0" shape-rendering="crispEdges"/>
<rect x="242" y="16" width="3" height="1" fill="#a0a0a0" shape-rendering="crispEdges"/>
<rect x="242" y="18" width="3" height="1" fill="#a0a0a0" shape-rendering="crispEdges"/>
<rect x="242" y="20" width="3" height="1" fill="#a0a0a0" shape-rendering="crispEdges"/>
<rect x="242" y="22" width="3" height="1" fill="#a0a0a0" shape-rendering="crispEdges"/>
<g shape-rendering="crispEdges" fill="#555"><rect x="256" y="9" width="1" height="13"/><rect x="254" y="19" width="13" height="1"/></g>
<polygon points="256.5,7.5 254.5,10.5 258.5,10.5" fill="#555"/><polygon points="268.5,19.5 265.5,17.5 265.5,21.5" fill="#555"/>
<g shape-rendering="crispEdges" fill="#108810"><rect x="262" y="9" width="2" height="9"/><rect x="264" y="10" width="2" height="1"/><rect x="260" y="16" width="2" height="1"/></g>
<g shape-rendering="crispEdges"><rect x="276" y="2" width="26" height="23" fill="url(#dith)"/><rect x="276" y="2" width="26" height="1" fill="#a0a0a0"/><rect x="276" y="2" width="1" height="23" fill="#a0a0a0"/><rect x="301" y="2" width="1" height="23" fill="#fff"/><rect x="276" y="24" width="26" height="1" fill="#fff"/></g>
<g shape-rendering="crispEdges" fill="#555"><rect x="284" y="9" width="1" height="13"/><rect x="282" y="19" width="13" height="1"/></g>
<polygon points="284.5,7.5 282.5,10.5 286.5,10.5" fill="#555"/><polygon points="296.5,19.5 293.5,17.5 293.5,21.5" fill="#555"/>
<rect x="290" y="6" width="1" height="13" fill="#0a8a0a" shape-rendering="crispEdges"/><rect x="288.5" y="8.5" width="4" height="7" fill="url(#cndl)" stroke="#0a8a0a" stroke-width="1"/>
<g shape-rendering="crispEdges" fill="#555"><rect x="312" y="9" width="1" height="13"/><rect x="310" y="19" width="13" height="1"/></g>
<polygon points="312.5,7.5 310.5,10.5 314.5,10.5" fill="#555"/><polygon points="324.5,19.5 321.5,17.5 321.5,21.5" fill="#555"/>
<path d="M311 16.6 C314 14 315.5 11 317.3 11.3 C319 11.6 320 14 322.8 15.2" fill="none" stroke="#2a9a2a" stroke-width="1.3"/>
<rect x="333" y="3" width="1" height="21" fill="#a0a0a0" shape-rendering="crispEdges"/>
<path d="M352.2 16.2 L357.2 20.6" stroke="#9a7a08" stroke-width="3.6" stroke-linecap="butt"/><path d="M352.4 16.4 L357.0 20.4" stroke="#e8cc30" stroke-width="2"/>
<circle cx="348.2" cy="11.8" r="5.6" fill="url(#lens)" stroke="#2a7ad0" stroke-width="1.1"/>
<rect x="344.7" y="10.8" width="7" height="2" fill="#3a88b8"/>
<rect x="347.2" y="8.3" width="2" height="7" fill="#3a88b8"/>
<path d="M380.3 16.2 L385.3 20.6" stroke="#9a7a08" stroke-width="3.6" stroke-linecap="butt"/><path d="M380.5 16.4 L385.1 20.4" stroke="#e8cc30" stroke-width="2"/>
<circle cx="376.3" cy="11.8" r="5.6" fill="url(#lens)" stroke="#2a7ad0" stroke-width="1.1"/>
<rect x="372.8" y="10.8" width="7" height="2" fill="#3a88b8"/>
<rect x="398" y="6" width="8" height="8" fill="#2a9a10" rx="0.6"/><rect x="399.2" y="9" width="5.6" height="4.2" fill="#fff"/><rect x="400.6" y="12.2" width="2.8" height="1.2" fill="#2a9a10"/><rect x="400.2" y="10.2" width="3.6" height="0.9" fill="#9ad880"/><rect x="399" y="7" width="1" height="1" fill="#fff" opacity="0.7"/>
<rect x="406" y="6" width="8" height="8" fill="#1a48c8" rx="0.6"/><rect x="407.2" y="9" width="5.6" height="4.2" fill="#fff"/><rect x="408.6" y="12.2" width="2.8" height="1.2" fill="#1a48c8"/><rect x="408.2" y="10.2" width="3.6" height="0.9" fill="#9ab0f0"/><rect x="407" y="7" width="1" height="1" fill="#fff" opacity="0.7"/>
<rect x="398" y="14" width="8" height="8" fill="#1a48c8" rx="0.6"/><rect x="399.2" y="17" width="5.6" height="4.2" fill="#fff"/><rect x="400.6" y="20.2" width="2.8" height="1.2" fill="#1a48c8"/><rect x="400.2" y="18.2" width="3.6" height="0.9" fill="#9ab0f0"/><rect x="399" y="15" width="1" height="1" fill="#fff" opacity="0.7"/>
<rect x="406" y="14" width="8" height="8" fill="#2a9a10" rx="0.6"/><rect x="407.2" y="17" width="5.6" height="4.2" fill="#fff"/><rect x="408.6" y="20.2" width="2.8" height="1.2" fill="#2a9a10"/><rect x="408.2" y="18.2" width="3.6" height="0.9" fill="#9ad880"/><rect x="407" y="15" width="1" height="1" fill="#fff" opacity="0.7"/>
<rect x="423" y="3" width="1" height="21" fill="#a0a0a0" shape-rendering="crispEdges"/>
<g shape-rendering="crispEdges"><rect x="428" y="2" width="26" height="23" fill="url(#dith)"/><rect x="428" y="2" width="26" height="1" fill="#a0a0a0"/><rect x="428" y="2" width="1" height="23" fill="#a0a0a0"/><rect x="453" y="2" width="1" height="23" fill="#fff"/><rect x="428" y="24" width="26" height="1" fill="#fff"/></g>
<g shape-rendering="crispEdges" fill="#555"><rect x="436" y="9" width="1" height="13"/><rect x="434" y="19" width="13" height="1"/></g>
<polygon points="436.5,7.5 434.5,10.5 438.5,10.5" fill="#555"/><polygon points="448.5,19.5 445.5,17.5 445.5,21.5" fill="#555"/>
<polygon points="441.3,10.2 441.3,16.8 445,13.5" fill="#55e055" stroke="#108810" stroke-width="1"/>
<g shape-rendering="crispEdges"><rect x="456" y="2" width="26" height="23" fill="url(#dith)"/><rect x="456" y="2" width="26" height="1" fill="#a0a0a0"/><rect x="456" y="2" width="1" height="23" fill="#a0a0a0"/><rect x="481" y="2" width="1" height="23" fill="#fff"/><rect x="456" y="24" width="26" height="1" fill="#fff"/></g>
<g shape-rendering="crispEdges" fill="#555"><rect x="464" y="9" width="1" height="13"/><rect x="462" y="19" width="13" height="1"/></g>
<polygon points="464.5,7.5 462.5,10.5 466.5,10.5" fill="#555"/><polygon points="476.5,19.5 473.5,17.5 473.5,21.5" fill="#555"/>
<rect x="470" y="8" width="1.4" height="10" fill="#1a6aa8"/>
<path d="M471.6 13.5 H476.4" stroke="#dd4400" stroke-width="1.2"/><polygon points="471.4,13.5 474.4,10.8 473.8,13.5 474.4,16.2" fill="#dd4400"/>
<rect x="485" y="3" width="1" height="21" fill="#a0a0a0" shape-rendering="crispEdges"/>
<path d="M495.5 6.5 H503 L506.5 10 V19.5 H495.5 Z" fill="#fff" stroke="#707070" stroke-width="1"/><path d="M503 6.5 V10 H506.5" fill="#e8e8e8" stroke="#707070" stroke-width="0.8"/>
<path d="M499.5 9.5 C497.5 10 497.5 14 499 16.5" fill="none" stroke="#6a5a3a" stroke-width="1"/>
<path d="M503.4 12.5 H506.6 V16.4 H510.5 V19.6 H506.6 V23.5 H503.4 V19.6 H499.5 V16.4 H503.4 Z" fill="url(#gplus)" stroke="#0a8a0a" stroke-width="1"/>
<g shape-rendering="crispEdges" fill="#000"><rect x="517" y="13" width="5" height="1"/><rect x="518" y="14" width="3" height="1"/><rect x="519" y="15" width="1" height="1"/></g>
<circle cx="541" cy="14" r="6.7" fill="#eef1f6" stroke="url(#clk)" stroke-width="2.7"/>
<circle cx="541" cy="14" r="5.2" fill="none" stroke="#c8ccd4" stroke-width="0.6"/>
<path d="M540.6 10 V14.2 H543.6" fill="none" stroke="#333" stroke-width="1.2"/><rect x="540" y="16.6" width="2" height="0.8" fill="#6aa8f0"/>
<g shape-rendering="crispEdges" fill="#000"><rect x="556" y="13" width="5" height="1"/><rect x="557" y="14" width="3" height="1"/><rect x="558" y="15" width="1" height="1"/></g>
<rect x="572.5" y="7.5" width="15" height="13" fill="#fff" stroke="#3a78c0" stroke-width="1"/><rect x="573" y="8" width="14" height="2" fill="#4a90d8"/><rect x="573" y="14.6" width="14" height="1.2" fill="#9cc4ec"/>
<path d="M574.5 13.5 L576.5 13.3 L578.5 11.8 L580.5 12.4 L582.5 12.4 L585.5 11.2" fill="none" stroke="#9a2a10" stroke-width="1.2"/>
<path d="M575 18.5 L577 18 L579 18.6 L580.5 17.6 L582.6 16.6 L584.5 18 L585.5 18.8" fill="none" stroke="#1a9a2a" stroke-width="1.2"/>
<g shape-rendering="crispEdges" fill="#000"><rect x="595" y="13" width="5" height="1"/><rect x="596" y="14" width="3" height="1"/><rect x="597" y="15" width="1" height="1"/></g>
<rect x="606" y="1" width="1" height="25" fill="#a0a0a0" shape-rendering="crispEdges"/><rect x="607" y="1" width="1" height="25" fill="#fff" shape-rendering="crispEdges"/>
<rect x="610" y="4" width="3" height="1" fill="#a0a0a0" shape-rendering="crispEdges"/>
<rect x="610" y="6" width="3" height="1" fill="#a0a0a0" shape-rendering="crispEdges"/>
<rect x="610" y="8" width="3" height="1" fill="#a0a0a0" shape-rendering="crispEdges"/>
<rect x="610" y="10" width="3" height="1" fill="#a0a0a0" shape-rendering="crispEdges"/>
<rect x="610" y="12" width="3" height="1" fill="#a0a0a0" shape-rendering="crispEdges"/>
<rect x="610" y="14" width="3" height="1" fill="#a0a0a0" shape-rendering="crispEdges"/>
<rect x="610" y="16" width="3" height="1" fill="#a0a0a0" shape-rendering="crispEdges"/>
<rect x="610" y="18" width="3" height="1" fill="#a0a0a0" shape-rendering="crispEdges"/>
<rect x="610" y="20" width="3" height="1" fill="#a0a0a0" shape-rendering="crispEdges"/>
<rect x="610" y="22" width="3" height="1" fill="#a0a0a0" shape-rendering="crispEdges"/>
<g shape-rendering="crispEdges"><rect x="616" y="2" width="26" height="23" fill="url(#dith)"/><rect x="616" y="2" width="26" height="1" fill="#a0a0a0"/><rect x="616" y="2" width="1" height="23" fill="#a0a0a0"/><rect x="641" y="2" width="1" height="23" fill="#fff"/><rect x="616" y="24" width="26" height="1" fill="#fff"/></g>
<path d="M624 7 L624 18.6 L626.8 16 L629 21 L631 20.1 L628.8 15.2 L632.6 15.2 Z" fill="#444"/>
<g shape-rendering="crispEdges" fill="#444"><rect x="656" y="7" width="1" height="6"/><rect x="656" y="16" width="1" height="6"/><rect x="649" y="14" width="6" height="1"/><rect x="658" y="14" width="6" height="1"/><rect x="656" y="14" width="1" height="1" fill="#777"/></g>
<rect x="673" y="3" width="1" height="21" fill="#a0a0a0" shape-rendering="crispEdges"/>
<g shape-rendering="crispEdges" fill="#444"><rect x="690" y="8" width="1" height="13"/><rect x="713" y="14" width="12" height="1"/></g>
<path d="M741.2 21 L753.2 8.8" stroke="#444" stroke-width="1.1"/>
<g stroke="#444" stroke-width="1" fill="none"><path d="M766.8 15.8 L775 8.2"/><path d="M768.5 20.4 L781 9"/><path d="M772 20.8 L781.5 12.5"/><path d="M770.5 13.5 L769.5 20"/><path d="M774 11 L773 17.5"/><path d="M778.5 6.5 L777.5 14.5"/></g>
<text x="777.6" y="22.8" font-family="Liberation Sans" font-weight="bold" font-size="6.6" fill="#222">E</text>
<rect x="796" y="7" width="1" height="1" fill="#444" shape-rendering="crispEdges"/>
<rect x="798" y="7" width="1" height="1" fill="#444" shape-rendering="crispEdges"/>
<rect x="800" y="7" width="1" height="1" fill="#444" shape-rendering="crispEdges"/>
<rect x="802" y="7" width="1" height="1" fill="#444" shape-rendering="crispEdges"/>
<rect x="804" y="7" width="1" height="1" fill="#444" shape-rendering="crispEdges"/>
<rect x="806" y="7" width="1" height="1" fill="#444" shape-rendering="crispEdges"/>
<rect x="808" y="7" width="1" height="1" fill="#444" shape-rendering="crispEdges"/>
<rect x="796" y="10" width="1" height="1" fill="#444" shape-rendering="crispEdges"/>
<rect x="798" y="10" width="1" height="1" fill="#444" shape-rendering="crispEdges"/>
<rect x="800" y="10" width="1" height="1" fill="#444" shape-rendering="crispEdges"/>
<rect x="802" y="10" width="1" height="1" fill="#444" shape-rendering="crispEdges"/>
<rect x="804" y="10" width="1" height="1" fill="#444" shape-rendering="crispEdges"/>
<rect x="806" y="10" width="1" height="1" fill="#444" shape-rendering="crispEdges"/>
<rect x="808" y="10" width="1" height="1" fill="#444" shape-rendering="crispEdges"/>
<rect x="796" y="14" width="1" height="1" fill="#444" shape-rendering="crispEdges"/>
<rect x="798" y="14" width="1" height="1" fill="#444" shape-rendering="crispEdges"/>
<rect x="800" y="14" width="1" height="1" fill="#444" shape-rendering="crispEdges"/>
<rect x="802" y="14" width="1" height="1" fill="#444" shape-rendering="crispEdges"/>
<rect x="804" y="14" width="1" height="1" fill="#444" shape-rendering="crispEdges"/>
<rect x="806" y="14" width="1" height="1" fill="#444" shape-rendering="crispEdges"/>
<rect x="808" y="14" width="1" height="1" fill="#444" shape-rendering="crispEdges"/>
<rect x="796" y="18" width="1" height="1" fill="#444" shape-rendering="crispEdges"/>
<rect x="798" y="18" width="1" height="1" fill="#444" shape-rendering="crispEdges"/>
<rect x="800" y="18" width="1" height="1" fill="#444" shape-rendering="crispEdges"/>
<rect x="802" y="18" width="1" height="1" fill="#444" shape-rendering="crispEdges"/>
<rect x="804" y="18" width="1" height="1" fill="#444" shape-rendering="crispEdges"/>
<text x="806" y="22.8" font-family="Liberation Sans" font-weight="bold" font-size="6.6" fill="#222">F</text>
<text x="826.8" y="18.8" font-family="Liberation Sans" font-size="11.6" fill="#555" stroke="#555" stroke-width="0.3">A</text>
<rect x="853" y="8" width="1" height="1" fill="#444" shape-rendering="crispEdges"/><rect x="853" y="20" width="1" height="1" fill="#444" shape-rendering="crispEdges"/>
<rect x="855" y="8" width="1" height="1" fill="#444" shape-rendering="crispEdges"/><rect x="855" y="20" width="1" height="1" fill="#444" shape-rendering="crispEdges"/>
<rect x="857" y="8" width="1" height="1" fill="#444" shape-rendering="crispEdges"/><rect x="857" y="20" width="1" height="1" fill="#444" shape-rendering="crispEdges"/>
<rect x="859" y="8" width="1" height="1" fill="#444" shape-rendering="crispEdges"/><rect x="859" y="20" width="1" height="1" fill="#444" shape-rendering="crispEdges"/>
<rect x="861" y="8" width="1" height="1" fill="#444" shape-rendering="crispEdges"/><rect x="861" y="20" width="1" height="1" fill="#444" shape-rendering="crispEdges"/>
<rect x="863" y="8" width="1" height="1" fill="#444" shape-rendering="crispEdges"/><rect x="863" y="20" width="1" height="1" fill="#444" shape-rendering="crispEdges"/>
<rect x="853" y="10" width="1" height="1" fill="#444" shape-rendering="crispEdges"/><rect x="864" y="10" width="1" height="1" fill="#444" shape-rendering="crispEdges"/>
<rect x="853" y="12" width="1" height="1" fill="#444" shape-rendering="crispEdges"/><rect x="864" y="12" width="1" height="1" fill="#444" shape-rendering="crispEdges"/>
<rect x="853" y="14" width="1" height="1" fill="#444" shape-rendering="crispEdges"/><rect x="864" y="14" width="1" height="1" fill="#444" shape-rendering="crispEdges"/>
<rect x="853" y="16" width="1" height="1" fill="#444" shape-rendering="crispEdges"/><rect x="864" y="16" width="1" height="1" fill="#444" shape-rendering="crispEdges"/>
<rect x="853" y="18" width="1" height="1" fill="#444" shape-rendering="crispEdges"/><rect x="864" y="18" width="1" height="1" fill="#444" shape-rendering="crispEdges"/>
<rect x="864" y="8" width="1" height="1" fill="#444"/><rect x="864" y="20" width="1" height="1" fill="#444"/>
<rect x="852" y="7" width="2" height="2" fill="#444"/>
<g fill="#555"><rect x="856" y="11" width="7" height="1.7"/><rect x="858.7" y="11" width="1.7" height="7.6"/></g>
<polygon points="883.4,8 879.8,11.6 887,11.6" fill="#444"/><polygon points="880.6,11.8 886.2,11.8 883.4,13.2" fill="#444"/>
<path d="M881.8 15.6 L884.4 17.8 L888.8 12.4" fill="none" stroke="#444" stroke-width="1.2"/>
<polygon points="887.2,17.6 894.2,17.6 890.7,21.2" fill="#444"/><polygon points="888,17.6 893.4,17.6 890.7,16.2" fill="#444"/>
<g shape-rendering="crispEdges" fill="#000"><rect x="901" y="13" width="5" height="1"/><rect x="902" y="14" width="3" height="1"/><rect x="903" y="15" width="1" height="1"/></g>
<rect x="912" y="1" width="1" height="25" fill="#a0a0a0" shape-rendering="crispEdges"/><rect x="913" y="1" width="1" height="25" fill="#fff" shape-rendering="crispEdges"/>
<rect x="916" y="4" width="3" height="1" fill="#a0a0a0" shape-rendering="crispEdges"/>
<rect x="916" y="6" width="3" height="1" fill="#a0a0a0" shape-rendering="crispEdges"/>
<rect x="916" y="8" width="3" height="1" fill="#a0a0a0" shape-rendering="crispEdges"/>
<rect x="916" y="10" width="3" height="1" fill="#a0a0a0" shape-rendering="crispEdges"/>
<rect x="916" y="12" width="3" height="1" fill="#a0a0a0" shape-rendering="crispEdges"/>
<rect x="916" y="14" width="3" height="1" fill="#a0a0a0" shape-rendering="crispEdges"/>
<rect x="916" y="16" width="3" height="1" fill="#a0a0a0" shape-rendering="crispEdges"/>
<rect x="916" y="18" width="3" height="1" fill="#a0a0a0" shape-rendering="crispEdges"/>
<rect x="916" y="20" width="3" height="1" fill="#a0a0a0" shape-rendering="crispEdges"/>
<rect x="916" y="22" width="3" height="1" fill="#a0a0a0" shape-rendering="crispEdges"/>
<g shape-rendering="crispEdges"><rect x="1062" y="2" width="26" height="23" fill="url(#dith)"/><rect x="1062" y="2" width="26" height="1" fill="#a0a0a0"/><rect x="1062" y="2" width="1" height="23" fill="#a0a0a0"/><rect x="1087" y="2" width="1" height="23" fill="#fff"/><rect x="1062" y="24" width="26" height="1" fill="#fff"/></g>
<rect x="1173" y="1" width="1" height="25" fill="#a0a0a0" shape-rendering="crispEdges"/>
<circle cx="1643.6" cy="11.2" r="3.6" fill="#f6f8ff" stroke="#2a5ad0" stroke-width="1.3"/><path d="M1641 14 L1635.6 18.8" stroke="#2a5ad0" stroke-width="2.4" stroke-linecap="round"/>
<path d="M1661 16.5 C1661 12 1672 11.5 1672.5 16 C1672.5 19.8 1667 20.5 1664.8 19.8 L1663.2 22.4 L1663.4 19.4 C1661.8 18.8 1661 17.8 1661 16.5 Z" fill="#eceef2" stroke="#b0b4bc" stroke-width="0.8"/>
<circle cx="1674.6" cy="11.3" r="8" fill="url(#redb)"/>
<text x="1671.2" y="15.8" font-family="Liberation Sans" font-size="12.4" fill="#fff">1</text>
</svg>
<div class="t" style="left:927.2px;top:11px;font-size:9.6px;color:#404040;will-change:transform;-webkit-text-stroke:0.1px">M1</div>
<div class="t" style="left:955.2px;top:11px;font-size:9.6px;color:#404040;will-change:transform;-webkit-text-stroke:0.1px">M5</div>
<div class="t" style="left:981.1px;top:11px;font-size:9.6px;color:#404040;will-change:transform;-webkit-text-stroke:0.1px">M15</div>
<div class="t" style="left:1009.3px;top:11px;font-size:9.6px;color:#404040;will-change:transform;-webkit-text-stroke:0.1px">M30</div>
<div class="t" style="left:1040px;top:11px;font-size:9.6px;color:#404040;will-change:transform;-webkit-text-stroke:0.1px">H1</div>
<div class="t" style="left:1067.6px;top:11px;font-size:9.6px;color:#404040;will-change:transform;-webkit-text-stroke:0.1px">H4</div>
<div class="t" style="left:1096.4px;top:11px;font-size:9.6px;color:#404040;will-change:transform;-webkit-text-stroke:0.1px">D1</div>
<div class="t" style="left:1123.8px;top:11px;font-size:9.6px;color:#404040;will-change:transform;-webkit-text-stroke:0.1px">W1</div>
<div class="t" style="left:1150px;top:11px;font-size:9.6px;color:#404040;will-change:transform;-webkit-text-stroke:0.1px">MN</div>
</body></html>
